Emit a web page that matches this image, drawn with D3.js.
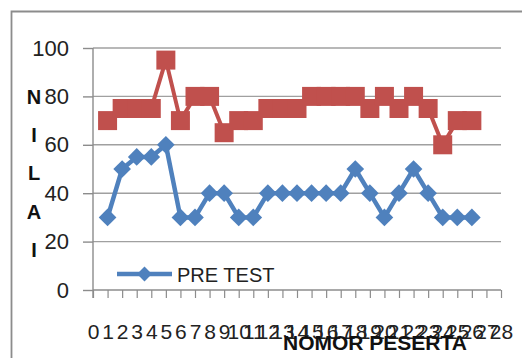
<!DOCTYPE html>
<html>
<head>
<meta charset="utf-8">
<script src="https://cdn.jsdelivr.net/npm/d3@7"></script>
<style>
  html, body { margin: 0; padding: 0; background: #fff; }
  svg { display: block; }
</style>
</head>
<body>
<svg id="chart" width="522" height="358"></svg>
<script>
// ---- data ----
const participants = [1,2,3,4,5,6,7,8,9,10,11,12,13,14,15,16,17,18,19,20,21,22,23,24,25,26];
const preTest  = [30,50,55,55,60,30,30,40,40,30,30,40,40,40,40,40,40,50,40,30,40,50,40,30,30,30];
const postTest = [70,75,75,75,95,70,80,80,65,70,70,75,75,75,80,80,80,80,75,80,75,80,75,60,70,70];
const xTicks = d3.range(0, 29);
const yTicks = [0, 20, 40, 60, 80, 100];
const yTitle = ["N","I","L","A","I"];
const xTitle = "NOMOR PESERTA";
const legendLabel = "PRE TEST";

const svg = d3.select("#chart");
const font = "'Liberation Sans', Arial, sans-serif";
const blue = "#4F81BD", red = "#C0504D";

const x = d3.scaleLinear().domain([0, 28]).range([93, 501]);
const y = d3.scaleLinear().domain([0, 100]).range([290, 48]);

// outer chart border (cropped)
svg.append("path")
  .attr("d", "M11.5,358 L11.5,11.5 L522,11.5")
  .attr("fill", "none").attr("stroke", "#8c8c8c").attr("stroke-width", 1.8);

// gridlines
svg.append("g").selectAll("line").data(yTicks.filter(d => d > 0)).join("line")
  .attr("x1", x(0)).attr("x2", x(28))
  .attr("y1", d => y(d)).attr("y2", d => y(d))
  .attr("stroke", "#a0a0a0").attr("stroke-width", 1.4);

// y axis
const yAxis = svg.append("g").attr("transform", `translate(${x(0)},0)`)
  .call(d3.axisLeft(y).tickValues(yTicks).tickSize(10).tickPadding(14).tickFormat(d3.format("d")));
yAxis.select(".domain").attr("stroke", "#8c8c8c").attr("stroke-width", 1.4)
  .attr("d", `M0,${y(100)}V${y(0) + 8}`);
yAxis.selectAll(".tick line").attr("stroke", "#8c8c8c").attr("stroke-width", 1.4);
yAxis.selectAll(".tick text").attr("font-family", font).attr("font-size", 22).attr("fill", "#222");

// x axis
const xAxis = svg.append("g").attr("transform", `translate(0,${y(0)})`)
  .call(d3.axisBottom(x).tickValues(xTicks).tickSize(8).tickPadding(26).tickFormat(d3.format("d")));
xAxis.select(".domain").attr("stroke", "#8c8c8c").attr("stroke-width", 1.4)
  .attr("d", `M${x(0)},0H${x(28)}`);
xAxis.selectAll(".tick line").attr("stroke", "#8c8c8c").attr("stroke-width", 1.2);
xAxis.selectAll(".tick text").attr("font-family", font).attr("font-size", 21).attr("fill", "#222");

// y title (stacked letters)
svg.append("g").selectAll("text").data(yTitle).join("text")
  .attr("x", 34).attr("y", (d, i) => 104 + i * 38.2)
  .attr("text-anchor", "middle")
  .attr("font-family", font).attr("font-weight", "bold").attr("font-size", 20)
  .attr("fill", "#111").text(d => d);

// x title
svg.append("text").attr("x", 375).attr("y", 350).attr("text-anchor", "middle")
  .attr("font-family", font).attr("font-weight", "bold").attr("font-size", 21)
  .attr("fill", "#111").text(xTitle);

const line = d3.line().x(d => x(d[0])).y(d => y(d[1]));
const postData = participants.map((p, i) => [p, postTest[i]]);
const preData = participants.map((p, i) => [p, preTest[i]]);

// post test series
svg.append("path").datum(postData).attr("d", line)
  .attr("fill", "none").attr("stroke", red).attr("stroke-width", 4).attr("stroke-linejoin", "round");
svg.append("g").selectAll("path").data(postData).join("path")
  .attr("d", d3.symbol().type(d3.symbolSquare).size(19 * 19))
  .attr("transform", d => `translate(${x(d[0])},${y(d[1])})`)
  .attr("fill", red);

// pre test series
svg.append("path").datum(preData).attr("d", line)
  .attr("fill", "none").attr("stroke", blue).attr("stroke-width", 4.5).attr("stroke-linejoin", "round");
svg.append("g").selectAll("path").data(preData).join("path")
  .attr("d", d3.symbol().type(d3.symbolSquare).size(12.5 * 12.5))
  .attr("transform", d => `translate(${x(d[0])},${y(d[1])}) rotate(45)`)
  .attr("fill", blue);

// legend
const lg = svg.append("g");
lg.append("line").attr("x1", 117).attr("x2", 172).attr("y1", 274).attr("y2", 274)
  .attr("stroke", blue).attr("stroke-width", 4.5);
lg.append("path").attr("d", d3.symbol().type(d3.symbolSquare).size(10.5 * 10.5))
  .attr("transform", "translate(144.5,274) rotate(45)").attr("fill", blue);
lg.append("text").attr("x", 177).attr("y", 282)
  .attr("font-family", font).attr("font-size", 20).attr("fill", "#222").text(legendLabel);
</script>
</body>
</html>
